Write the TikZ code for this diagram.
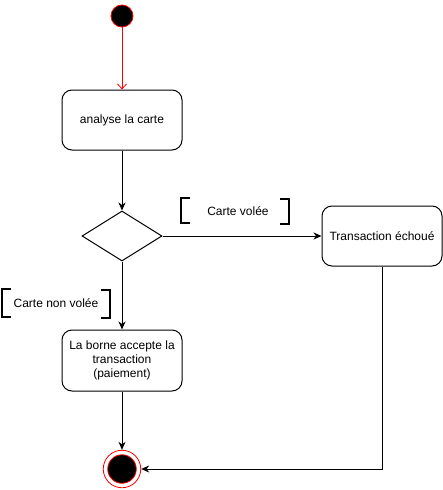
\documentclass[tikz,border=0pt]{standalone}
\usepackage{fontspec}
\setmainfont{Liberation Sans}
\usetikzlibrary{shapes.geometric,arrows.meta}
\begin{document}
\begin{tikzpicture}[x=1pt,y=-1pt,
  font=\fontsize{12}{14}\selectfont,
  act/.style={draw, line width=1pt, rounded corners=10pt, minimum width=120pt, minimum height=60pt, inner sep=2pt, align=center},
  flow/.style={draw, line width=1pt, -{Stealth[length=8pt,width=7pt,inset=2.5pt]}},
  redflow/.style={draw=red, line width=0.8pt, -{Straight Barb[length=5pt,width=9pt]}},
  bracket/.style={line width=2pt, line cap=butt}]
\useasboundingbox (0,0) rectangle (443,490);
\node[circle, draw=red, fill=black, minimum size=22pt, inner sep=0, line width=0.8pt] (start) at (122,16) {};
\node[act] (b1) at (122,120) {analyse la carte};
\node[diamond, draw, line width=1pt, minimum width=80pt, minimum height=50pt, inner sep=0] (dia) at (122,236) {};
\node[act] (b2) at (382,236) {Transaction échoué};
\node[act, minimum height=61pt] (b3) at (122,360.5) {La borne accepte la\\transaction\\(paiement)};
\node[circle, draw=red, minimum size=37.5pt, inner sep=0, line width=0.8pt] (end) at (122,469) {};
\node[circle, draw=red, fill=black, minimum size=28.5pt, inner sep=0, line width=0.8pt] (endin) at (end) {};
\node[inner sep=0] (gv) at (238,211) {Carte volée};
\node[inner sep=0] (gnv) at (56,303) {Carte non volée};
% brackets
\draw[bracket] (190,198) -- (181,198) -- (181,223) -- (190,223);
\draw[bracket] (280,199) -- (289,199) -- (289,224) -- (280,224);
\draw[bracket] (11,289) -- (2,289) -- (2,317) -- (11,317);
\draw[bracket] (101,290) -- (110,290) -- (110,318) -- (101,318);
% connectors
\draw[redflow] (start) -- (b1);
\draw[flow] (b1) -- (dia);
\draw[flow] (dia.east) -- (b2.west);
\draw[flow] (dia.south) -- (b3.north);
\draw[flow] (b3) -- (end);
\draw[flow] (b2.south) |- (end.east);
\end{tikzpicture}
\end{document}
